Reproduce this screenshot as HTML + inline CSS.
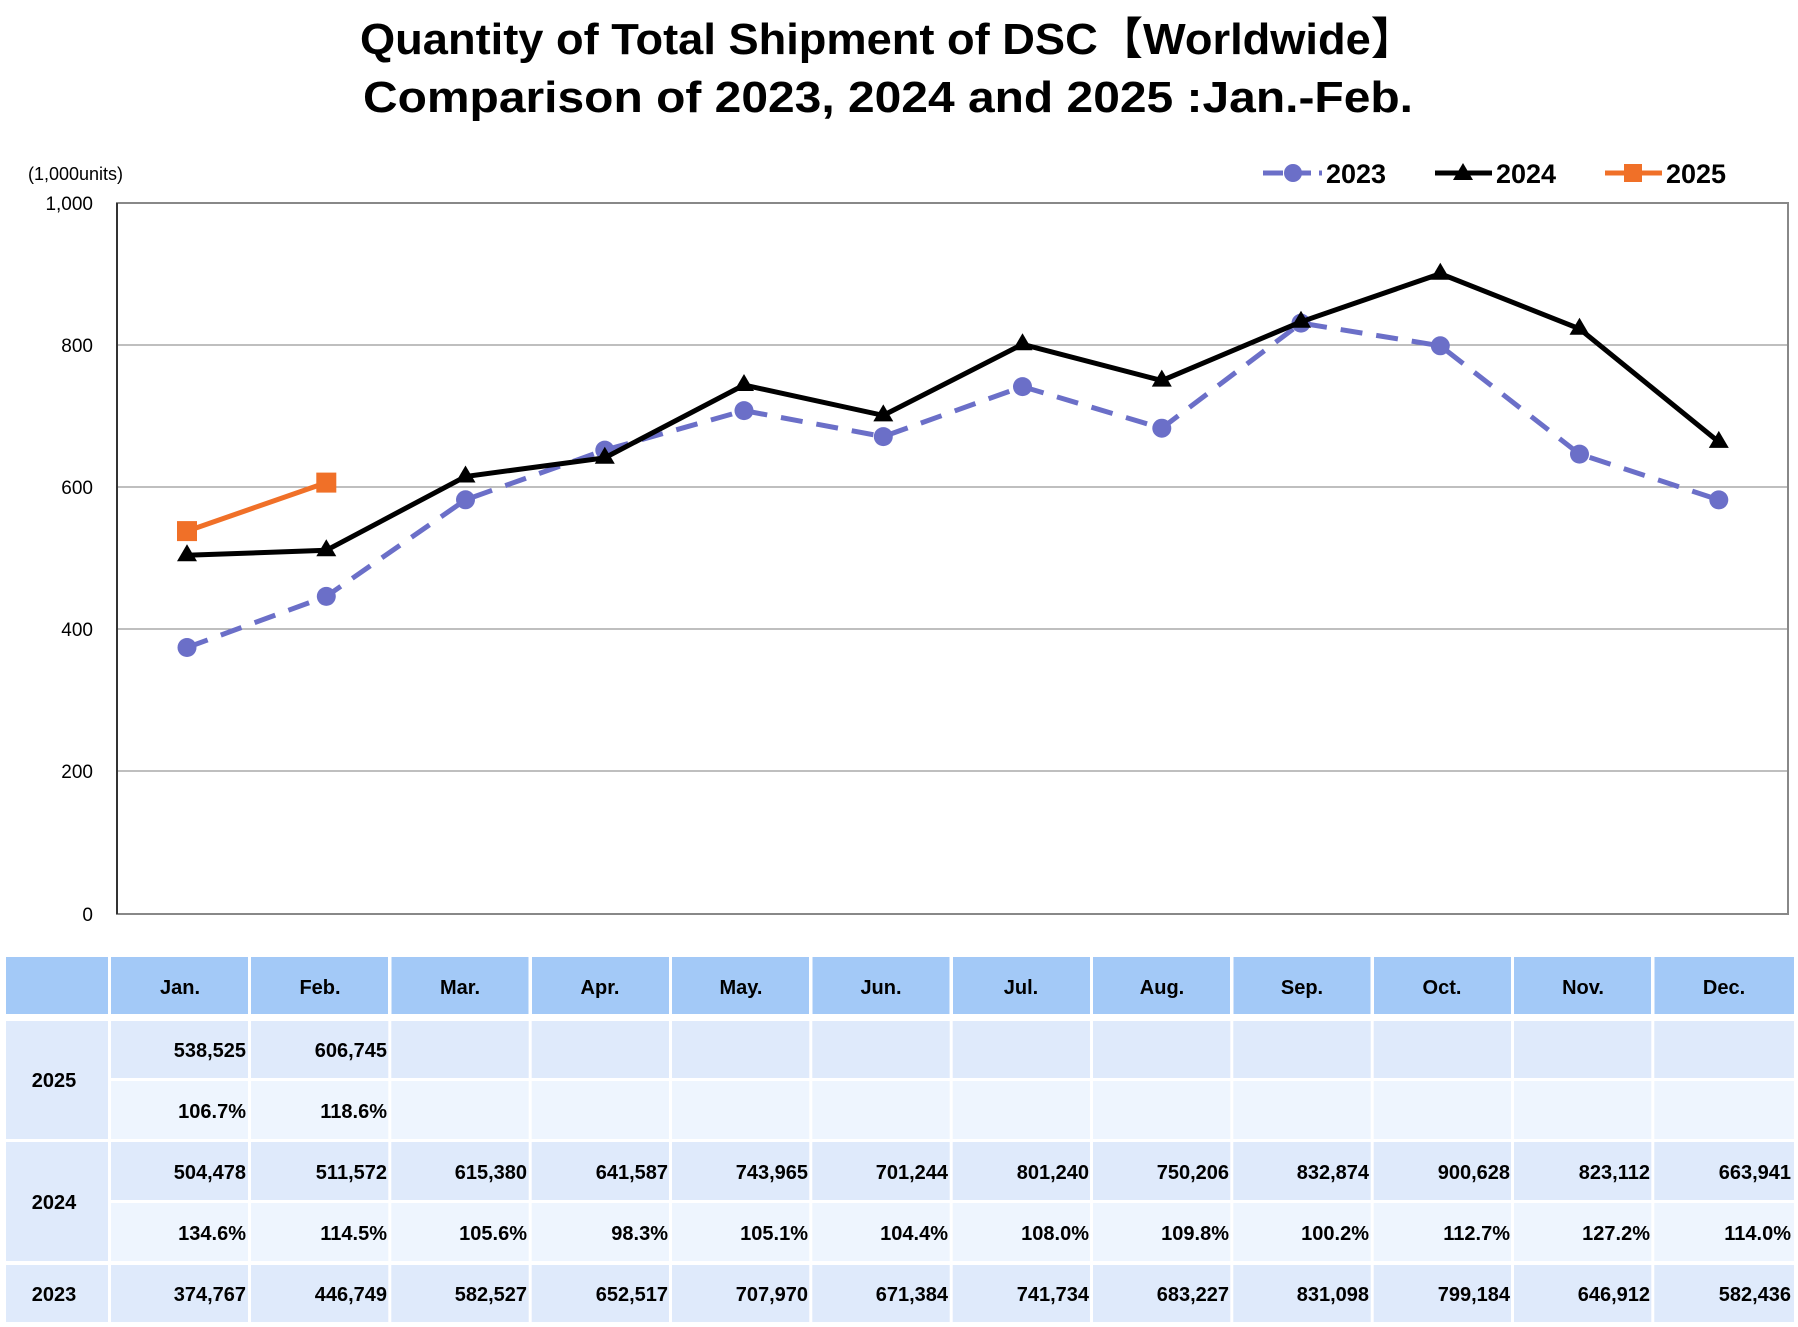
<!DOCTYPE html>
<html><head><meta charset="utf-8"><style>
html,body{margin:0;padding:0;background:#fff;}
svg{display:block;font-family:"Liberation Sans","Noto Sans CJK JP",sans-serif;}
</style></head><body>
<svg width="1798" height="1327" viewBox="0 0 1798 1327" xmlns="http://www.w3.org/2000/svg">
<text x="888" y="54" font-size="44" font-weight="bold" text-anchor="middle" textLength="1056" lengthAdjust="spacingAndGlyphs">Quantity of Total Shipment of DSC【Worldwide】</text>
<text x="888" y="112" font-size="44" font-weight="bold" text-anchor="middle" textLength="1050" lengthAdjust="spacingAndGlyphs">Comparison of 2023, 2024 and 2025 :Jan.-Feb.</text>
<text x="28" y="180" font-size="18">(1,000units)</text>
<g font-size="19" text-anchor="end">
<text x="93" y="210">1,000</text><text x="93" y="352">800</text><text x="93" y="494">600</text><text x="93" y="636">400</text><text x="93" y="778">200</text><text x="93" y="921">0</text>
</g>
<g stroke="#999" stroke-width="1.2">
<line x1="117" y1="345" x2="1788" y2="345"/><line x1="117" y1="487" x2="1788" y2="487"/><line x1="117" y1="629" x2="1788" y2="629"/><line x1="117" y1="771" x2="1788" y2="771"/>
</g>
<rect x="117" y="203" width="1671" height="711" fill="none" stroke="#888" stroke-width="2"/>
<line x1="117" y1="203" x2="117" y2="914" stroke="#333" stroke-width="2"/>
<!-- 2023 -->
<polyline fill="none" stroke="#6b6fc8" stroke-width="5" stroke-dasharray="22,14" points="187,647.5 326.3,596.4 465.5,499.8 604.8,450.1 744,410.6 883.3,436.6 1022.5,386.6 1161.8,428.2 1301,323.1 1440.3,345.8 1579.5,454.1 1718.8,499.9"/>
<g fill="#6b6fc8">
<circle cx="187" cy="647.5" r="9.5"/><circle cx="326.3" cy="596.4" r="9.5"/><circle cx="465.5" cy="499.8" r="9.5"/><circle cx="604.8" cy="450.1" r="9.5"/><circle cx="744" cy="410.6" r="9.5"/><circle cx="883.3" cy="436.6" r="9.5"/><circle cx="1022.5" cy="386.6" r="9.5"/><circle cx="1161.8" cy="428.2" r="9.5"/><circle cx="1301" cy="323.1" r="9.5"/><circle cx="1440.3" cy="345.8" r="9.5"/><circle cx="1579.5" cy="454.1" r="9.5"/><circle cx="1718.8" cy="499.9" r="9.5"/>
</g>
<!-- 2024 -->
<polyline fill="none" stroke="#000" stroke-width="5" points="187,555.3 326.3,550.3 465.5,476.5 604.8,457.8 744,385 883.3,415.4 1022.5,344.3 1161.8,380.6 1301,321.8 1440.3,273.7 1579.5,328.8 1718.8,441.9"/>
<g fill="#000">
<path d="M187,544.3 l10,17 h-20z"/><path d="M326.3,539.3 l10,17 h-20z"/><path d="M465.5,465.5 l10,17 h-20z"/><path d="M604.8,446.8 l10,17 h-20z"/><path d="M744,374 l10,17 h-20z"/><path d="M883.3,404.4 l10,17 h-20z"/><path d="M1022.5,333.3 l10,17 h-20z"/><path d="M1161.8,369.6 l10,17 h-20z"/><path d="M1301,310.8 l10,17 h-20z"/><path d="M1440.3,262.7 l10,17 h-20z"/><path d="M1579.5,317.8 l10,17 h-20z"/><path d="M1718.8,430.9 l10,17 h-20z"/>
</g>
<!-- 2025 -->
<polyline fill="none" stroke="#f07028" stroke-width="5" points="187,531.1 326.3,482.6"/>
<rect x="177" y="521.1" width="20" height="20" fill="#f07028"/><rect x="316.3" y="472.6" width="20" height="20" fill="#f07028"/>
<!-- legend -->
<line x1="1263" y1="173" x2="1322" y2="173" stroke="#6b6fc8" stroke-width="5" stroke-dasharray="20,8"/><circle cx="1293" cy="173" r="9" fill="#6b6fc8"/>
<text x="1326" y="183" font-size="27" font-weight="bold">2023</text>
<line x1="1435" y1="173" x2="1492" y2="173" stroke="#000" stroke-width="5"/><path d="M1463,163 l10,17 h-20z" fill="#000"/>
<text x="1496" y="183" font-size="27" font-weight="bold">2024</text>
<line x1="1605" y1="173" x2="1662" y2="173" stroke="#f07028" stroke-width="5"/><rect x="1624" y="164" width="18" height="18" fill="#f07028"/>
<text x="1666" y="183" font-size="27" font-weight="bold">2025</text>
<!-- table -->
<g>
<rect x="6" y="957" width="102" height="57" fill="#a3c9f7"/>
<rect x="6" y="1021" width="102" height="118" fill="#dfeafb"/>
<rect x="6" y="1142" width="102" height="119" fill="#dfeafb"/>
<rect x="6" y="1265" width="102" height="57" fill="#dfeafb"/>
</g>
<g id="cols">
<rect x="111" y="957" width="137" height="57" fill="#a3c9f7"/><rect x="251" y="957" width="137" height="57" fill="#a3c9f7"/><rect x="391.5" y="957" width="137" height="57" fill="#a3c9f7"/><rect x="532" y="957" width="137" height="57" fill="#a3c9f7"/><rect x="672" y="957" width="137" height="57" fill="#a3c9f7"/><rect x="812.5" y="957" width="137" height="57" fill="#a3c9f7"/><rect x="953" y="957" width="137" height="57" fill="#a3c9f7"/><rect x="1093" y="957" width="137" height="57" fill="#a3c9f7"/><rect x="1233.5" y="957" width="137" height="57" fill="#a3c9f7"/><rect x="1374" y="957" width="137" height="57" fill="#a3c9f7"/><rect x="1514" y="957" width="137" height="57" fill="#a3c9f7"/><rect x="1654.5" y="957" width="139.5" height="57" fill="#a3c9f7"/>
</g>
<g fill="#dfeafb">
<rect x="111" y="1021" width="1683" height="57"/><rect x="111" y="1142" width="1683" height="58"/><rect x="111" y="1265" width="1683" height="57"/>
</g>
<g fill="#eef5fe">
<rect x="111" y="1081" width="1683" height="58"/><rect x="111" y="1203" width="1683" height="58"/>
</g>
<g stroke="#fff" stroke-width="3">
<line x1="249.5" y1="1014" x2="249.5" y2="1325"/><line x1="389.8" y1="1014" x2="389.8" y2="1325"/><line x1="530.2" y1="1014" x2="530.2" y2="1325"/><line x1="670.5" y1="1014" x2="670.5" y2="1325"/><line x1="810.8" y1="1014" x2="810.8" y2="1325"/><line x1="951.2" y1="1014" x2="951.2" y2="1325"/><line x1="1091.5" y1="1014" x2="1091.5" y2="1325"/><line x1="1231.8" y1="1014" x2="1231.8" y2="1325"/><line x1="1372.2" y1="1014" x2="1372.2" y2="1325"/><line x1="1512.5" y1="1014" x2="1512.5" y2="1325"/><line x1="1652.8" y1="1014" x2="1652.8" y2="1325"/>
</g>
<g font-size="20" font-weight="bold" text-anchor="middle">
<text x="180" y="994">Jan.</text><text x="320" y="994">Feb.</text><text x="460" y="994">Mar.</text><text x="600" y="994">Apr.</text><text x="741" y="994">May.</text><text x="881" y="994">Jun.</text><text x="1021" y="994">Jul.</text><text x="1162" y="994">Aug.</text><text x="1302" y="994">Sep.</text><text x="1442" y="994">Oct.</text><text x="1583" y="994">Nov.</text><text x="1724" y="994">Dec.</text>
<text x="54" y="1087">2025</text><text x="54" y="1209">2024</text><text x="54" y="1301">2023</text>
</g>
<g font-size="20" font-weight="bold" text-anchor="end">
<text x="246" y="1057">538,525</text><text x="387" y="1057">606,745</text>
<text x="246" y="1118">106.7%</text><text x="387" y="1118">118.6%</text>
<text x="246" y="1179">504,478</text><text x="387" y="1179">511,572</text><text x="527" y="1179">615,380</text><text x="668" y="1179">641,587</text><text x="808" y="1179">743,965</text><text x="948" y="1179">701,244</text><text x="1089" y="1179">801,240</text><text x="1229" y="1179">750,206</text><text x="1369" y="1179">832,874</text><text x="1510" y="1179">900,628</text><text x="1650" y="1179">823,112</text><text x="1791" y="1179">663,941</text>
<text x="246" y="1240">134.6%</text><text x="387" y="1240">114.5%</text><text x="527" y="1240">105.6%</text><text x="668" y="1240">98.3%</text><text x="808" y="1240">105.1%</text><text x="948" y="1240">104.4%</text><text x="1089" y="1240">108.0%</text><text x="1229" y="1240">109.8%</text><text x="1369" y="1240">100.2%</text><text x="1510" y="1240">112.7%</text><text x="1650" y="1240">127.2%</text><text x="1791" y="1240">114.0%</text>
<text x="246" y="1301">374,767</text><text x="387" y="1301">446,749</text><text x="527" y="1301">582,527</text><text x="668" y="1301">652,517</text><text x="808" y="1301">707,970</text><text x="948" y="1301">671,384</text><text x="1089" y="1301">741,734</text><text x="1229" y="1301">683,227</text><text x="1369" y="1301">831,098</text><text x="1510" y="1301">799,184</text><text x="1650" y="1301">646,912</text><text x="1791" y="1301">582,436</text>
</g>
</svg>
</body></html>
